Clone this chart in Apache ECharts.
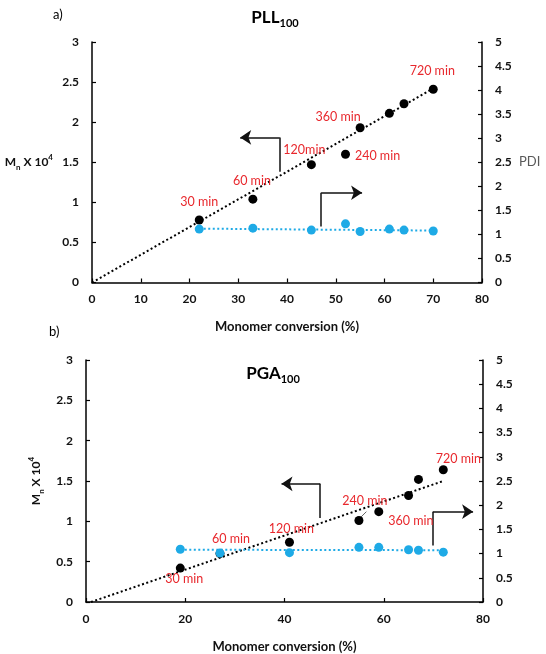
<!DOCTYPE html>
<html>
<head>
    <meta charset="utf-8">
    <title>PLL100 / PGA100 - Mn and PDI vs conversion</title>
    <script src="https://cdn.jsdelivr.net/npm/echarts@6.0.0/dist/echarts.min.js"></script>
    <style>
        html, body { margin: 0; padding: 0; background: #fff; }
    </style>
</head>
<body>
    <div id="main" style="width: 546px;height:654px;"></div>

    <script type="text/javascript">
        // panel a) PLL100
        var convA = [22, 33, 45, 52, 55, 61, 64, 70];
        var mnA = [0.78, 1.04, 1.47, 1.60, 1.93, 2.11, 2.23, 2.41];
        var pdiA = [1.11, 1.13, 1.09, 1.22, 1.06, 1.11, 1.09, 1.07];
        var timeA = ['30 min', '60 min', '120min', '240 min', '360 min', '', '', '720 min'];
        var mnTrendA = [[0, 0], [70, 2.42]];
        var pdiTrendA = [[22, 1.12], [70, 1.08]];
        var arrowLeftA = [[38.5, 1.38], [38.5, 1.81], [30.4, 1.81]];
        var arrowRightA = [[47.0, 0.70], [47.0, 1.12], [55.4, 1.12]];

        // panel b) PGA100
        var convB = [19, 27, 41, 55, 59, 65, 67, 72];
        var mnB = [0.42, 0.60, 0.74, 1.01, 1.12, 1.32, 1.52, 1.64];
        var pdiB = [1.09, 1.01, 1.02, 1.13, 1.13, 1.08, 1.07, 1.03];
        var timeB = ['30 min', '60 min', '120 min', '240 min', '360 min', '', '', '720 min'];
        var mnTrendB = [[1, 0], [72, 1.5]];
        var pdiTrendB = [[19, 1.08], [72, 1.07]];
        var arrowLeftB = [[47.2, 1.04], [47.2, 1.465], [39.4, 1.465]];
        var arrowRightB = [[69.9, 0.70], [69.9, 1.12], [78.0, 1.12]];
        var leaderB = [[56.5, 1.12], [55.2, 1.04]];

        var xTicksA = 10, xTicksB = 20;

        // label offsets (px) for the red time labels
        var offA = [[0, -18], [-1, -18], [-7, -15], [32, 2], [-22, -11], [0, 0], [0, 0], [-1, -18]];
        var offB = [[4, 11], [11, -15], [2, -13], [6, -20], [32, 9], [0, 0], [0, 0], [15, -11]];

        var FONT = 'Lato';
        var RED = '#e8282d';
        var BLUE = '#1eaae6';

        function pairs(xs, ys) {
            return xs.map(function (x, i) { return [x, ys[i]]; });
        }

        function labelled(xs, ys, times, offs) {
            return xs.map(function (x, i) {
                return {
                    value: [x, ys[i]],
                    label: {
                        show: times[i] !== '',
                        formatter: times[i],
                        position: 'inside',
                        offset: offs[i],
                        color: RED,
                        fontFamily: FONT,
                        fontSize: 12.5
                    }
                };
            });
        }

        var tickLabel = { color: '#111', fontFamily: FONT, fontWeight: 'bold', fontSize: 12 };
        var axisLine = { show: true, lineStyle: { color: '#000', width: 1.5 } };
        var axisTick = { show: true, inside: true, length: 4, lineStyle: { color: '#000', width: 1.2 } };

        var mnRich = {
            b: { fontFamily: FONT, fontWeight: 'bold', fontSize: 12, lineHeight: 18, color: '#111' },
            s: { fontFamily: FONT, fontWeight: 'bold', fontSize: 8, lineHeight: 8, verticalAlign: 'bottom', color: '#111' },
            p: { fontFamily: FONT, fontWeight: 'bold', fontSize: 8, lineHeight: 8, verticalAlign: 'top', color: '#111' }
        };
        var mnName = '{b|M}{s|n}{b| X 10}{p|4}';

        function xAxis(grid, step) {
            return {
                type: 'value', gridIndex: grid, min: 0, max: 80, interval: step,
                name: 'Monomer conversion (%)', nameLocation: 'middle', nameGap: 38,
                nameTextStyle: { color: '#111', fontFamily: FONT, fontWeight: 'bold', fontSize: 13 },
                axisLine: axisLine, axisTick: axisTick, splitLine: { show: false },
                axisLabel: Object.assign({ margin: 11 }, tickLabel)
            };
        }

        function yAxis(grid, side, max) {
            return {
                type: 'value', gridIndex: grid, position: side, min: 0, max: max, interval: 0.5,
                axisLine: axisLine, axisTick: axisTick, splitLine: { show: false },
                axisLabel: Object.assign({ margin: 13 }, tickLabel)
            };
        }

        function trend(data, xi, yi, color) {
            return {
                type: 'line', xAxisIndex: xi, yAxisIndex: yi, data: data, symbol: 'none',
                silent: true, z: 1,
                lineStyle: { color: color, width: 2, type: [2, 2.5] }
            };
        }

        // bent arrow: first leg plain, second leg with an arrow head
        function arrow(pts, xi, yi) {
            var base = {
                type: 'lines', coordinateSystem: 'cartesian2d', xAxisIndex: xi, yAxisIndex: yi,
                silent: true, z: 1,
                lineStyle: { color: '#111', width: 1.5, opacity: 1 }
            };
            return [
                Object.assign({}, base, { symbol: 'none', data: [{ coords: [pts[0], pts[1]] }] }),
                Object.assign({}, base, { symbol: ['none', 'arrow'], symbolSize: [9, 11], data: [{ coords: [pts[1], pts[2]] }] })
            ];
        }

        var myChart = echarts.init(document.getElementById('main'));

        var a = yAxis(0, 'left', 3);
        a.name = mnName; a.nameLocation = 'middle'; a.nameRotate = 0; a.nameGap = 39;
        a.nameTextStyle = { rich: mnRich, align: 'right' };

        var aR = yAxis(0, 'right', 5);
        aR.name = 'PDI'; aR.nameLocation = 'middle'; aR.nameRotate = 0; aR.nameGap = 37;
        aR.nameTextStyle = { color: '#595959', fontFamily: FONT, fontSize: 13, align: 'left' };

        var b = yAxis(1, 'left', 3);
        b.name = mnName; b.nameLocation = 'middle'; b.nameRotate = 90; b.nameGap = 36;
        b.nameTextStyle = { rich: mnRich };

        var titleRich = {
            a: { fontFamily: FONT, fontWeight: 'bold', fontSize: 17, lineHeight: 22, color: '#000' },
            b: { fontFamily: FONT, fontWeight: 'bold', fontSize: 11, lineHeight: 11, verticalAlign: 'bottom', color: '#000' }
        };

        var series = [].concat(
            trend(mnTrendA, 0, 0, '#000'),
            trend(pdiTrendA, 0, 1, BLUE),
            arrow(arrowLeftA, 0, 0),
            arrow(arrowRightA, 0, 0),
            {
                type: 'scatter', xAxisIndex: 0, yAxisIndex: 0, symbolSize: 9, z: 3,
                itemStyle: { color: '#000', opacity: 1 },
                data: labelled(convA, mnA, timeA, offA)
            },
            {
                type: 'scatter', xAxisIndex: 0, yAxisIndex: 1, symbolSize: 9, z: 4,
                itemStyle: { color: BLUE, opacity: 1 },
                data: pairs(convA, pdiA)
            },
            trend(mnTrendB, 1, 2, '#000'),
            trend(pdiTrendB, 1, 3, BLUE),
            arrow(arrowLeftB, 1, 2),
            arrow(arrowRightB, 1, 2),
            {
                type: 'lines', coordinateSystem: 'cartesian2d', xAxisIndex: 1, yAxisIndex: 2,
                silent: true, z: 2, lineStyle: { color: '#666', width: 1, opacity: 1 },
                data: [{ coords: leaderB }]
            },
            {
                type: 'scatter', xAxisIndex: 1, yAxisIndex: 2, symbolSize: 9, z: 3,
                itemStyle: { color: '#000', opacity: 1 },
                data: labelled(convB, mnB, timeB, offB)
            },
            {
                type: 'scatter', xAxisIndex: 1, yAxisIndex: 3, symbolSize: 9, z: 4,
                itemStyle: { color: BLUE, opacity: 1 },
                data: pairs(convB, pdiB)
            }
        );

        var option = {
            backgroundColor: '#fff',
            animation: false,
            title: [
                { text: '{a|PLL}{b|100}', left: 270, top: 2, textAlign: 'center', textStyle: { rich: titleRich } },
                { text: '{a|PGA}{b|100}', left: 268, top: 358, textAlign: 'center', textStyle: { rich: titleRich } },
                { text: 'a)', left: 48, top: 3, textStyle: { fontFamily: FONT, fontWeight: 'normal', fontSize: 13, color: '#000' } },
                { text: 'b)', left: 44, top: 320, textStyle: { fontFamily: FONT, fontWeight: 'normal', fontSize: 13, color: '#000' } }
            ],
            grid: [
                { left: 92, right: 64, top: 42, height: 240.5 },
                { left: 86, right: 63, top: 360, height: 242.3 }
            ],
            xAxis: [xAxis(0, xTicksA), xAxis(1, xTicksB)],
            yAxis: [a, aR, b, yAxis(1, 'right', 5)],
            series: series
        };

        myChart.setOption(option);
    </script>
</body>
</html>
